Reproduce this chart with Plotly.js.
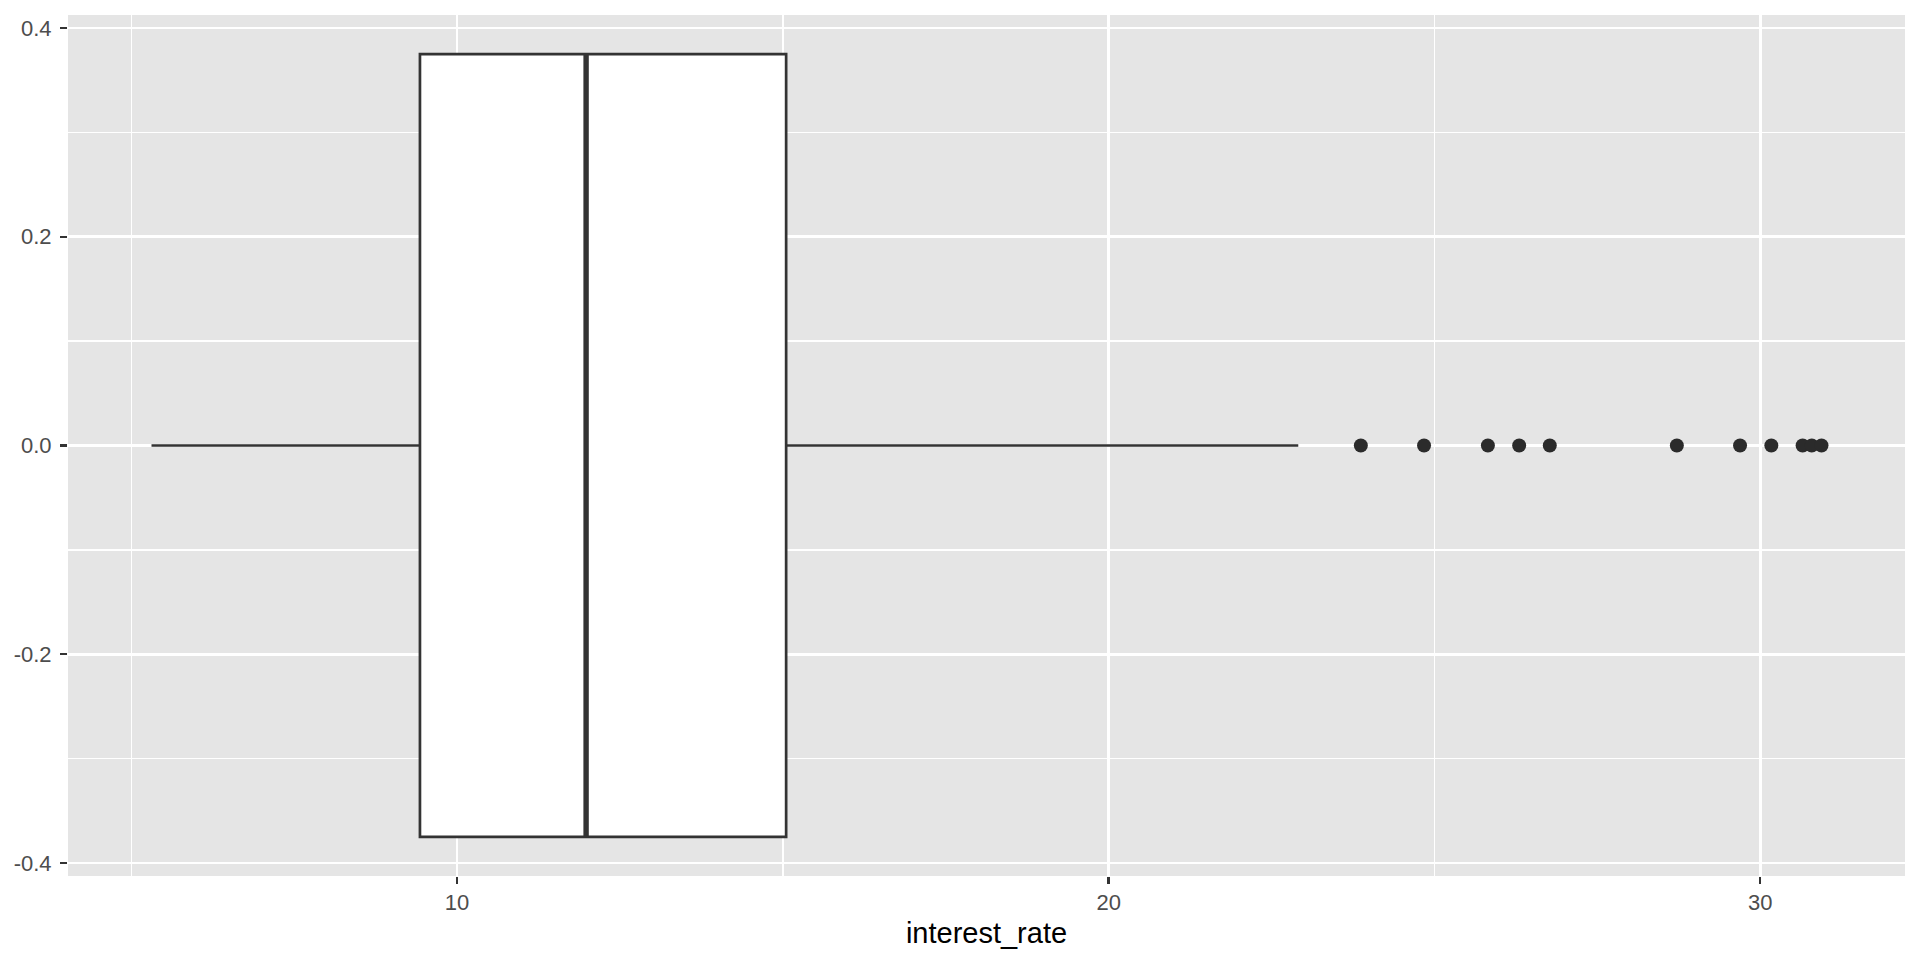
<!DOCTYPE html>
<html>
<head>
<meta charset="utf-8">
<script src="https://cdn.plot.ly/plotly-3.0.1.min.js"></script>
<style>html,body{margin:0;padding:0;background:#fff;}#chart{width:1920px;height:960px;}</style>
</head>
<body>
<div id="chart"></div>
<script>
// Box statistics for interest_rate
const boxPosition = [0];
const lowerWhisker = [5.31];
const q1Values = [9.43];
const medianValues = [11.98];
const q3Values = [15.05];
const upperWhisker = [22.91];
// Outliers beyond the upper whisker
const outlierRates = [23.87, 24.84, 25.82, 26.30, 26.77, 28.72, 29.69, 30.17, 30.65, 30.79, 30.94];
// Axis ticks
const xTickVals = [10, 20, 30];
const xTickText = ['10', '20', '30'];
const yTickVals = [-0.4, -0.2, 0.0, 0.2, 0.4];
const yTickText = ['-0.4', '-0.2', '0.0', '0.2', '0.4'];

const boxWidth = 0.75;
const half = boxWidth / 2;
const dataMin = Math.min(lowerWhisker[0], ...outlierRates);
const dataMax = Math.max(upperWhisker[0], ...outlierRates);
const xPad = (dataMax - dataMin) * 0.05;
const yPad = boxWidth * 0.05;

const ink = '#333333';

const traces = [
  {
    type: 'box',
    orientation: 'h',
    y: boxPosition,
    q1: q1Values,
    median: medianValues,
    q3: q3Values,
    lowerfence: lowerWhisker,
    upperfence: upperWhisker,
    width: boxWidth,
    whiskerwidth: 0,
    boxpoints: false,
    fillcolor: '#FFFFFF',
    line: {color: ink, width: 2.7},
    hoverinfo: 'skip',
    showlegend: false
  },
  {
    type: 'scatter',
    mode: 'lines',
    x: [medianValues[0], medianValues[0]],
    y: [boxPosition[0] - half, boxPosition[0] + half],
    line: {color: ink, width: 5.4},
    hoverinfo: 'skip',
    showlegend: false
  },
  {
    type: 'scatter',
    mode: 'markers',
    x: outlierRates,
    y: outlierRates.map(() => boxPosition[0]),
    marker: {color: '#2B2B2B', size: 14},
    hoverinfo: 'skip',
    showlegend: false
  }
];

const layout = {
  width: 1920,
  height: 960,
  margin: {l: 68, r: 15, t: 15, b: 84},
  paper_bgcolor: '#FFFFFF',
  plot_bgcolor: '#E5E5E5',
  font: {family: 'Liberation Sans, Arial, sans-serif', color: '#4D4D4D', size: 22},
  showlegend: false,
  xaxis: {
    range: [dataMin - xPad, dataMax + xPad],
    tickmode: 'array',
    tickvals: xTickVals,
    ticktext: xTickText,
    ticks: 'outside',
    ticklen: 7,
    tickwidth: 2.4,
    tickcolor: ink,
    tickfont: {size: 22, color: '#4D4D4D'},
    showgrid: true,
    gridcolor: '#FFFFFF',
    gridwidth: 2.6,
    minor: {dtick: 5, tick0: 0, showgrid: true, gridcolor: '#FFFFFF', gridwidth: 1.3, ticks: ''},
    zeroline: false,
    showline: false,
    title: {text: 'interest_rate', font: {size: 29, color: '#000000'}, standoff: 8},
    fixedrange: true
  },
  yaxis: {
    range: [-half - yPad, half + yPad],
    tickmode: 'array',
    tickvals: yTickVals,
    ticktext: yTickText,
    ticks: 'outside',
    ticklen: 7,
    tickwidth: 2.4,
    tickcolor: ink,
    tickfont: {size: 22, color: '#4D4D4D'},
    ticklabelstandoff: 4,
    showgrid: true,
    gridcolor: '#FFFFFF',
    gridwidth: 2.6,
    minor: {dtick: 0.1, tick0: 0, showgrid: true, gridcolor: '#FFFFFF', gridwidth: 1.3, ticks: ''},
    zeroline: false,
    showline: false,
    fixedrange: true
  }
};

Plotly.newPlot('chart', traces, layout, {displayModeBar: false, staticPlot: true});
</script>
</body>
</html>
